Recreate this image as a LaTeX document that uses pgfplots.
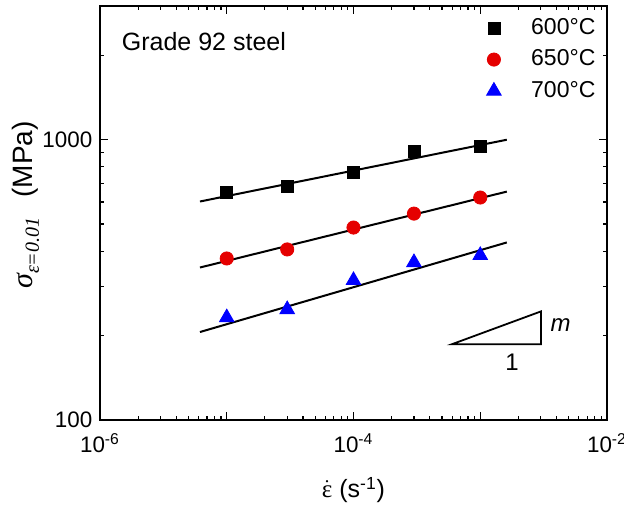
\documentclass[border=0pt]{standalone}
\usepackage{pgfplots}
\pgfplotsset{compat=1.18}
\usepackage{fontspec}
\setmainfont{Liberation Sans}
\newfontfamily\serif{Liberation Serif}
\begin{document}
\fontsize{11}{13}\selectfont
\begin{tikzpicture}
\begin{axis}[
  scale only axis,
  width=253.5pt, height=207pt,
  xmode=log, ymode=log,
  xmin=1e-6, xmax=1e-2,
  ymin=100, ymax=3000,
  axis line style={line width=0.6pt},
  every tick/.style={line width=0.6pt, black},
  major tick length=4pt, minor tick length=2.2pt,
  xtick={1e-6,1e-5,1e-4,1e-3,1e-2},
  xticklabels={10\textsuperscript{-6},,10\textsuperscript{-4},,10\textsuperscript{-2}},
  ytick={100,1000},
  yticklabels={100,1000},
  minor xtick={2e-6,3e-6,4e-6,5e-6,6e-6,7e-6,8e-6,9e-6,2e-5,3e-5,4e-5,5e-5,6e-5,7e-5,8e-5,9e-5,2e-4,3e-4,4e-4,5e-4,6e-4,7e-4,8e-4,9e-4,2e-3,3e-3,4e-3,5e-3,6e-3,7e-3,8e-3,9e-3},
  minor ytick={200,300,400,500,600,700,800,900,2000,3000},
  tick label style={font=\fontsize{11.2}{13}\selectfont},
  /pgf/number format/assume math mode=true,
  xticklabel style={yshift=-3pt},
  xlabel={$\dot{\mbox{\serif ε}}$ (s\textsuperscript{-1})},
  ylabel={{\serif\itshape\fontsize{15}{17}\selectfont σ\raisebox{-3pt}{\fontsize{10}{11}\selectfont ε=0.01}}\hspace{10pt}{\fontsize{14}{16}\selectfont(MPa)}},
  label style={font=\fontsize{12.5}{14}\selectfont},
  xlabel style={at={(axis description cs:0.5,0)}, anchor=center, yshift=-35pt},
  ylabel style={at={(axis description cs:0,0.5)}, anchor=center, xshift=4pt, yshift=37pt},
  legend style={draw=none, fill=none, at={(axis description cs:0.75,0.99)}, anchor=north west,
    font=\fontsize{11.5}{13}\selectfont, row sep=2pt,
    /tikz/every odd column/.append style={column sep=13pt}},
  legend cell align=left,
]
\addplot[only marks, mark=square*, mark size=3.0pt, color=black] coordinates {
  (1e-5,647) (3e-5,680) (1e-4,763) (3e-4,906) (1e-3,944)};
\addlegendentry{600°C}
\addplot[only marks, mark=*, mark size=3.3pt, color=red!90!black] coordinates {
  (1e-5,377) (3e-5,406) (1e-4,486) (3e-4,545) (1e-3,622)};
\addlegendentry{650°C}
\addplot[only marks, mark=triangle*, mark size=4.2pt, color=blue] coordinates {
  (1e-5,232) (3e-5,248) (1e-4,315) (3e-4,365) (1e-3,387)};
\addlegendentry{700°C}
\addplot[black, line width=1pt, forget plot] coordinates {(6.15e-6,602) (1.62e-3,1000)};
\addplot[black, line width=1pt, forget plot] coordinates {(6.15e-6,350) (1.62e-3,653)};
\addplot[black, line width=1pt, forget plot] coordinates {(6.15e-6,206) (1.62e-3,430)};
\draw[line width=0.9pt] (axis cs:5.98e-4,186.4) -- (axis cs:3.01e-3,186.4) -- (axis cs:3.01e-3,244) -- cycle;
\node[font=\fontsize{12}{13}\selectfont\itshape] at (axis cs:4.3e-3,218) {m};
\node[font=\fontsize{12}{13}\selectfont] at (axis cs:1.78e-3,161) {1};
\node[anchor=west, font=\fontsize{12.5}{14}\selectfont] at (axis description cs:0.028,0.913) {Grade 92 steel};
\coordinate (SW) at (rel axis cs:0,0);
\coordinate (NE) at (rel axis cs:1,1);
\end{axis}
\pgfresetboundingbox
\path ([shift={(-50pt,-42.5pt)}]SW) rectangle ([shift={(8.5pt,3pt)}]NE);
\end{tikzpicture}
\end{document}
